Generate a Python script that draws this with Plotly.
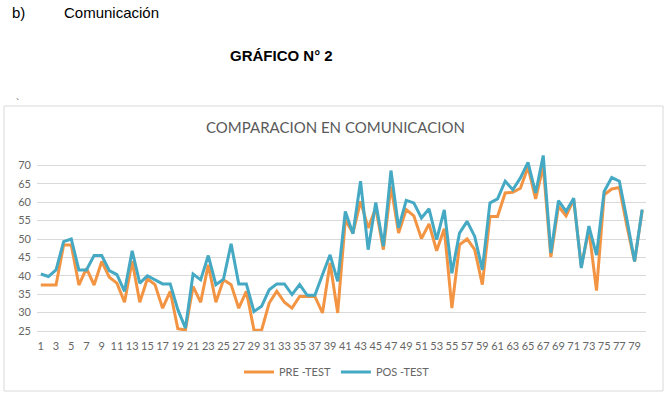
import plotly.graph_objects as go

categories = list(range(1, 81))
pre_test = [37.5, 37.5, 37.5, 48.4, 48.4, 37.5, 42.0, 37.5, 43.9, 39.6,
            38.0, 32.8, 44.0, 32.8, 39.2, 37.6, 31.2, 35.8, 25.6, 25.3,
            37.1, 32.8, 43.0, 32.8, 38.9, 37.6, 31.2, 35.8, 25.3, 25.2,
            32.6, 35.8, 32.8, 31.2, 34.4, 34.4, 34.4, 29.9, 43.5, 29.9,
            55.2, 51.6, 60.2, 53.0, 58.4, 47.1, 64.3, 51.6, 58.0, 56.3,
            50.1, 54.1, 46.8, 52.8, 31.2, 48.4, 50.0, 47.1, 37.6, 56.1,
            56.1, 62.5, 62.7, 63.8, 69.5, 60.9, 69.8, 45.1, 58.9, 56.3,
            60.7, 42.6, 52.5, 36.0, 62.0, 63.6, 64.0, 53.4, 43.9, 57.8]
pos_test = [40.5, 39.8, 41.6, 49.3, 50.0, 41.6, 41.6, 45.5, 45.5, 41.4,
            40.3, 35.8, 46.8, 38.0, 40.0, 38.9, 37.8, 37.8, 30.8, 25.8,
            40.5, 38.9, 45.5, 37.6, 39.1, 48.7, 37.8, 37.8, 30.3, 31.7,
            36.2, 37.8, 37.8, 34.9, 37.6, 34.7, 34.7, 40.3, 45.7, 38.5,
            57.5, 51.4, 65.7, 47.1, 59.9, 48.0, 68.6, 53.0, 60.5, 59.8,
            55.7, 58.2, 49.8, 57.9, 40.7, 51.6, 54.8, 50.7, 41.6, 59.8,
            60.9, 65.7, 63.4, 66.6, 70.8, 62.5, 72.7, 46.2, 60.4, 57.5,
            61.1, 42.1, 53.5, 45.6, 62.9, 66.7, 65.7, 55.2, 43.9, 58.0]
x_ticks = list(range(1, 80, 2))
y_ticks = list(range(25, 75, 5))

W, H = 670, 398
L, R, T, B = 37, 24, 147, 67
pw, ph = W - L - R, H - T - B

def px(x):
    return (x - L) / pw

def py(y):
    return (H - B - y) / ph

fig = go.Figure()
fig.add_trace(go.Scatter(x=categories, y=pre_test, mode="lines", name="PRE -TEST",
                         line=dict(color="#F39443", width=3)))
fig.add_trace(go.Scatter(x=categories, y=pos_test, mode="lines", name="POS -TEST",
                         line=dict(color="#45A9C4", width=3)))

tick_font = dict(family="Lato, Open Sans, sans-serif", size=11, color="#666666")
fig.update_layout(
    width=W, height=H,
    margin=dict(l=L, r=R, t=T, b=B),
    paper_bgcolor="white", plot_bgcolor="white",
    showlegend=True,
    legend=dict(orientation="h", x=px(337), xanchor="center", y=py(372), yanchor="middle",
                font=dict(family="Lato, Open Sans, sans-serif", size=11, color="#666666"),
                itemwidth=30, tracegroupgap=0),
    xaxis=dict(range=[0.5, 80.5], tickmode="array", tickvals=x_ticks,
               ticktext=[str(v) for v in x_ticks], showgrid=False, zeroline=False,
               showline=True, linecolor="#D9D9D9", linewidth=1, ticks="",
               tickfont=tick_font, tickangle=0, ticklabelstandoff=5),
    yaxis=dict(range=[25, 75], tickmode="array", tickvals=y_ticks,
               ticktext=[str(v) for v in y_ticks], showgrid=True, gridcolor="#D9D9D9",
               gridwidth=1, zeroline=False, showline=False, ticks="",
               tickfont=tick_font, ticklabelstandoff=5),
)

annotations = [
    dict(text="b)", x=px(10), y=py(12), xanchor="left", yanchor="middle",
         font=dict(family="Liberation Sans, Arial", size=15, color="#000000")),
    dict(text="Comunicación", x=px(62), y=py(12), xanchor="left", yanchor="middle",
         font=dict(family="Liberation Sans, Arial", size=15, color="#000000")),
    dict(text="<b>GRÁFICO N° 2</b>", x=px(281), y=py(56), xanchor="center", yanchor="middle",
         font=dict(family="Liberation Sans, Arial", size=15, color="#000000")),
    dict(text="`", x=px(17), y=py(103), xanchor="center", yanchor="middle",
         font=dict(family="Liberation Sans, Arial", size=10, color="#444444")),
    dict(text="COMPARACION EN COMUNICACION", x=px(335), y=py(127), xanchor="center",
         yanchor="middle",
         font=dict(family="Lato, Open Sans, sans-serif", size=15, color="#595959")),
]
for a in annotations:
    a.update(xref="paper", yref="paper", showarrow=False)
fig.update_layout(annotations=annotations)

fig.add_shape(type="rect", xref="paper", yref="paper",
              x0=px(4), x1=px(663), y0=py(106), y1=py(391),
              line=dict(color="#D9D9D9", width=1), fillcolor="rgba(0,0,0,0)", layer="below")

fig.write_html("out.html")
